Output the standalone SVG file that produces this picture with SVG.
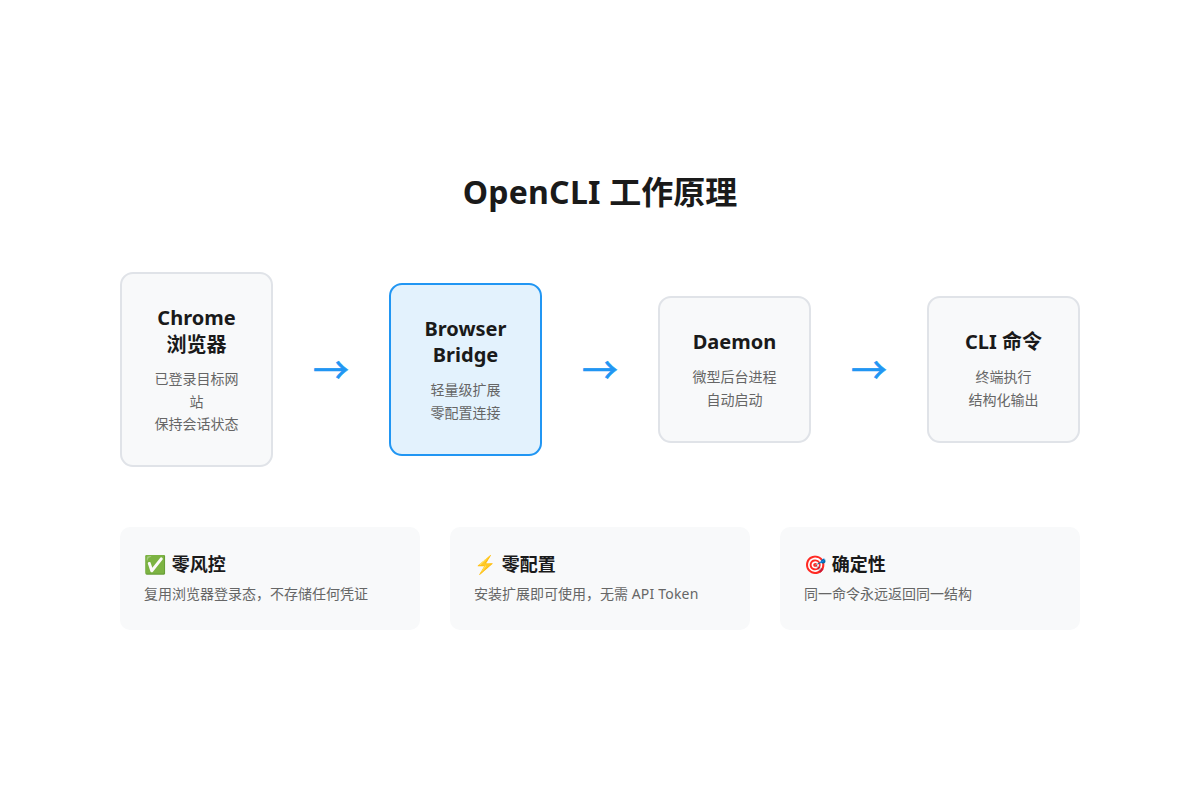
<svg xmlns="http://www.w3.org/2000/svg" width="1200" height="800" viewBox="0 0 1200 800">
<style>
text{font-family:"Noto Sans","Noto Sans CJK SC",sans-serif;text-anchor:middle}
.t{font-size:32px;font-weight:700;fill:#1a1a1a}
.n{font-size:20px;font-weight:700;fill:#1a1a1a}
.s{font-size:14px;fill:#666}
.box{fill:#f8f9fa;stroke:#e0e3e8;stroke-width:2}
.hl{fill:#e3f2fd;stroke:#2196f3;stroke-width:2}
.a{font-size:36px;font-family:"Noto Sans CJK SC",sans-serif;fill:#2196f3;stroke:#2196f3;stroke-width:.7}
.c{fill:#f8f9fa}
.h{font-size:18px;font-weight:700;fill:#1a1a1a;text-anchor:start}
.d{font-size:14px;fill:#666;text-anchor:start}
</style>
<rect width="1200" height="800" fill="#fff"/>
<text class="t" x="600" y="204"><tspan letter-spacing="0.25">OpenCLI </tspan>工作原理</text>
<g id="node-chrome"><rect class="box" x="121" y="273" width="151" height="193" rx="12"/>
<text class="n" x="196.500" y="325">Chrome</text><text class="n" x="196.500" y="352">浏览器</text>
<text class="s" x="196.500" y="384">已登录目标网</text><text class="s" x="196.500" y="407.400">站</text><text class="s" x="196.500" y="429">保持会话状态</text></g>
<g id="node-bridge"><rect class="hl" x="390" y="284" width="151" height="171" rx="12"/>
<text class="n" x="465.500" y="336">Browser</text><text class="n" x="465.500" y="362">Bridge</text>
<text class="s" x="465.500" y="395">轻量级扩展</text><text class="s" x="465.500" y="418">零配置连接</text></g>
<g id="node-daemon"><rect class="box" x="659" y="297" width="151" height="145" rx="12"/>
<text class="n" x="734.500" y="349">Daemon</text>
<text class="s" x="734.500" y="382">微型后台进程</text><text class="s" x="734.500" y="405">自动启动</text></g>
<g id="node-cli"><rect class="box" x="928" y="297" width="151" height="145" rx="12"/>
<text class="n" x="1003.500" y="349">CLI 命令</text>
<text class="s" x="1003.500" y="382">终端执行</text><text class="s" x="1003.500" y="405">结构化输出</text></g>
<g id="connectors">
<text class="a" x="331" y="384">→</text><text class="a" x="600" y="384">→</text><text class="a" x="869" y="384">→</text>
</g>
<g id="card-1"><rect class="c" x="120" y="527" width="300" height="103" rx="10"/>
<text class="h" x="144" y="571">✅ <tspan dx="1">零风控</tspan></text><text class="d" x="144" y="599">复用浏览器登录态，不存储任何凭证</text></g>
<g id="card-2"><rect class="c" x="450" y="527" width="300" height="103" rx="10"/>
<text class="h" x="474" y="571">⚡ <tspan dx="1">零配置</tspan></text><text class="d" x="474" y="599">安装扩展即可使用，无需 <tspan letter-spacing="0.2">API Token</tspan></text></g>
<g id="card-3"><rect class="c" x="780" y="527" width="300" height="103" rx="10"/>
<text class="h" x="804" y="571">🎯 <tspan dx="1">确定性</tspan></text><text class="d" x="804" y="599">同一命令永远返回同一结构</text></g>
</svg>
